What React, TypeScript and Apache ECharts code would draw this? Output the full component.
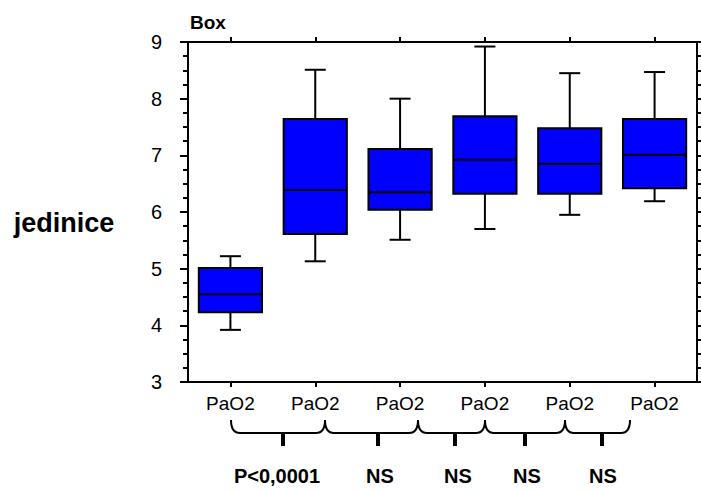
import React, { useEffect, useRef } from "react";
import * as echarts from "echarts";

const categories = ["PaO2", "PaO2", "PaO2", "PaO2", "PaO2", "PaO2"];
const whiskerLow = [3.92, 5.13, 5.51, 5.7, 5.95, 6.19];
const quartile1 = [4.23, 5.61, 6.04, 6.32, 6.32, 6.42];
const medians = [4.55, 6.39, 6.35, 6.92, 6.85, 7.01];
const quartile3 = [5.01, 7.64, 7.11, 7.69, 7.48, 7.64];
const whiskerHigh = [5.22, 8.51, 8.0, 8.92, 8.45, 8.47];
const yTicks = [3, 4, 5, 6, 7, 8, 9];

// comparison annotations below the axis
const bracketEnds = [231, 325, 418, 485, 565, 630];
const bracketTicks = [283, 378, 455, 525, 602];
const comparisonLabels = ["P<0,0001", "NS", "NS", "NS", "NS"];
const comparisonLabelX = [277, 380, 458, 527, 603];

const FONT = "'Liberation Sans', Arial, Helvetica, sans-serif";

export default function App() {
  const ref = useRef<HTMLDivElement>(null);
  useEffect(() => {
    if (!ref.current) return;
    const chart = echarts.init(ref.current, undefined, { renderer: "svg" });
    const data = categories.map((_, i) => [
      i,
      whiskerLow[i],
      quartile1[i],
      medians[i],
      quartile3[i],
      whiskerHigh[i],
    ]);

    const braceTop = 420;
    const braceLine = 433;
    const r = 9;
    const braceStyle = { stroke: "#000", lineWidth: 2, fill: "none" };
    const graphics: any[] = [];
    for (let k = 0; k < bracketEnds.length - 1; k++) {
      const a = bracketEnds[k];
      const b = bracketEnds[k + 1];
      graphics.push({
        type: "bezierCurve",
        shape: { x1: a, y1: braceTop, x2: a + r, y2: braceLine, cpx1: a, cpy1: braceLine },
        style: braceStyle,
      });
      graphics.push({
        type: "line",
        shape: { x1: a + r, y1: braceLine, x2: b - r, y2: braceLine },
        style: braceStyle,
      });
      graphics.push({
        type: "bezierCurve",
        shape: { x1: b - r, y1: braceLine, x2: b, y2: braceTop, cpx1: b, cpy1: braceLine },
        style: braceStyle,
      });
    }
    bracketTicks.forEach((t) => {
      graphics.push({
        type: "line",
        shape: { x1: t, y1: braceLine, x2: t, y2: 446 },
        style: { stroke: "#000", lineWidth: 4 },
      });
    });
    comparisonLabels.forEach((txt, k) => {
      graphics.push({
        type: "text",
        x: comparisonLabelX[k],
        y: 476,
        style: {
          text: txt,
          font: `bold 20px ${FONT}`,
          fill: "#000",
          align: "center",
          verticalAlign: "middle",
        },
      });
    });
    graphics.push({
      type: "text",
      x: 208,
      y: 22,
      style: { text: "Box", font: `bold 19px ${FONT}`, fill: "#000", align: "center", verticalAlign: "middle" },
    });
    graphics.push({
      type: "text",
      x: 64,
      y: 223,
      style: { text: "jedinice", font: `bold 27px ${FONT}`, fill: "#000", align: "center", verticalAlign: "middle" },
    });

    const axisLine = { show: true, lineStyle: { color: "#000", width: 2 } };
    const yCommon = {
      type: "value",
      min: yTicks[0],
      max: yTicks[yTicks.length - 1],
      interval: 1,
      splitLine: { show: false },
      axisLine,
      minorTick: { show: true, splitNumber: 4, length: 5, lineStyle: { color: "#000", width: 2 } },
      minorSplitLine: { show: false },
    };

    chart.setOption({
      animation: false,
      backgroundColor: "#fff",
      grid: { left: 188, top: 42, width: 509, height: 340, containLabel: false },
      xAxis: [
        {
          type: "category",
          data: categories,
          position: "bottom",
          boundaryGap: true,
          axisLine,
          axisTick: { show: true, alignWithLabel: true, length: 5, lineStyle: { color: "#000", width: 2 } },
          axisLabel: { color: "#000", fontSize: 19, fontFamily: FONT, margin: 12 },
          splitLine: { show: false },
        },
        {
          type: "category",
          data: categories,
          position: "top",
          boundaryGap: true,
          axisLine,
          axisTick: { show: true, alignWithLabel: true, length: 5, lineStyle: { color: "#000", width: 2 } },
          axisLabel: { show: false },
          splitLine: { show: false },
        },
      ],
      yAxis: [
        {
          ...yCommon,
          position: "left",
          axisTick: { show: true, length: 8, lineStyle: { color: "#000", width: 2 } },
          axisLabel: { color: "#000", fontSize: 20, fontFamily: FONT, margin: 26 },
        },
        {
          ...yCommon,
          position: "right",
          axisTick: { show: true, length: 5, lineStyle: { color: "#000", width: 2 } },
          axisLabel: { show: false },
        },
      ],
      series: [
        {
          type: "custom",
          xAxisIndex: 0,
          yAxisIndex: 0,
          encode: { x: 0, y: [1, 2, 3, 4, 5] },
          data,
          renderItem: (params: any, api: any) => {
            const i = api.value(0);
            const pLo = api.coord([i, api.value(1)]);
            const pQ1 = api.coord([i, api.value(2)]);
            const pMed = api.coord([i, api.value(3)]);
            const pQ3 = api.coord([i, api.value(4)]);
            const pHi = api.coord([i, api.value(5)]);
            const x = pLo[0];
            const bw = api.size([1, 0])[0] * 0.745;
            const cap = 21;
            const ls = { stroke: "#000", lineWidth: 2 };
            return {
              type: "group",
              children: [
                { type: "line", shape: { x1: x, y1: pQ3[1], x2: x, y2: pHi[1] }, style: ls },
                { type: "line", shape: { x1: x - cap / 2, y1: pHi[1], x2: x + cap / 2, y2: pHi[1] }, style: ls },
                { type: "line", shape: { x1: x, y1: pQ1[1], x2: x, y2: pLo[1] }, style: ls },
                { type: "line", shape: { x1: x - cap / 2, y1: pLo[1], x2: x + cap / 2, y2: pLo[1] }, style: ls },
                {
                  type: "rect",
                  shape: { x: x - bw / 2, y: pQ3[1], width: bw, height: pQ1[1] - pQ3[1] },
                  style: { fill: "#0000ff", stroke: "#000", lineWidth: 2 },
                },
                { type: "line", shape: { x1: x - bw / 2, y1: pMed[1], x2: x + bw / 2, y2: pMed[1] }, style: ls },
              ],
            };
          },
        },
      ],
      graphic: graphics,
    });
    return () => chart.dispose();
  }, []);
  return <div ref={ref} style={{ position: "fixed", left: 0, top: 0, width: 701, height: 490 }} />;
}
